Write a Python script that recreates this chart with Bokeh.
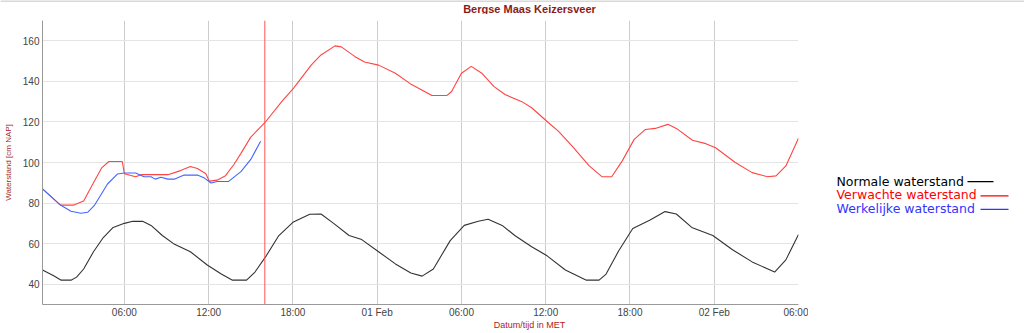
from bokeh.plotting import figure
from bokeh.models import Range1d, FixedTicker, Span, ColumnDataSource
from bokeh.layouts import row, column
from bokeh.core.properties import value
from bokeh.embed import file_html
from bokeh.resources import INLINE

# hours since 31 Jan 00:00 (MET)
normal_h = [0.17, 1.0, 1.5, 2.2, 2.6, 3.1, 3.8, 4.5, 5.2, 6.0, 6.6, 7.3, 7.9, 8.7, 9.5, 10.7, 11.9, 12.9,
            13.7, 14.7, 15.3, 16.1, 17.0, 18.0, 19.2, 20.0, 20.9, 22.0, 22.9, 24.1, 25.3, 26.4, 27.2, 28.0,
            29.2, 30.2, 31.2, 31.9, 32.9, 33.8, 35.0, 36.1, 37.4, 38.9, 39.8, 40.3, 41.2, 42.2, 43.4, 44.5,
            45.3, 46.4, 47.9, 49.3, 50.7, 52.3, 53.1, 54.0]
normal_v = [47, 44, 42, 42, 43.5, 47.5, 56, 63, 68, 70, 71, 71, 69, 64, 60, 56, 49.5, 45,
            42, 42, 46, 54, 64, 70.5, 74.5, 74.6, 70, 64, 62, 56, 50, 45.5, 44, 47.5,
            61.5, 69, 71, 72, 69, 64, 58.5, 54, 47, 42, 42, 45, 56.5, 67.5, 71.5, 75.8,
            74.6, 68, 64, 57, 51, 46, 52, 64.5]

expected_h = [0.17, 1.45, 2.4, 3.1, 3.8, 4.4, 4.9, 5.85, 6.0, 6.8, 7.2, 9.1, 10.0, 10.7, 11.2, 11.8, 12.05,
              12.6, 13.2, 13.8, 14.3, 15.0, 16.0, 17.2, 18.05, 19.3, 20.0, 21.0, 21.45, 22.4, 23.1, 24.1,
              25.3, 26.45, 27.9, 28.95, 29.3, 30.0, 30.7, 31.45, 32.3, 33.1, 34.3, 35.0, 36.2, 36.9, 37.9,
              39.1, 40.0, 40.7, 41.45, 42.3, 43.1, 43.8, 44.7, 45.3, 46.45, 47.4, 48.1, 49.5, 50.7, 51.8,
              52.4, 53.1, 54.0]
expected_v = [87, 79, 79, 81, 90, 97.5, 100.5, 100.5, 94.5, 93, 94, 94, 96, 98, 97, 94.5, 90.8,
              91.3, 93.5, 99, 104.5, 112.5, 119.6, 130, 136.7, 148, 153, 157.5, 157, 152.3, 149.5, 148,
              144, 138.4, 133, 133, 135, 144, 147.4, 144, 137.5, 133.5, 130, 127, 119.6, 115.5, 108,
              98.3, 93, 93, 100.8, 111.4, 116.3, 116.8, 118.8, 116.8, 111, 109.3, 107.3, 100, 95, 93,
              93.4, 98.3, 112]

actual_h = [0.17, 1.45, 2.2, 2.9, 3.4, 3.85, 4.8, 5.5, 6.0, 6.8, 7.4, 7.9, 8.2, 8.6, 9.1, 9.55, 10.25,
            11.2, 11.7, 12.17, 12.6, 13.4, 14.3, 15.0, 15.7]
actual_v = [87, 79, 76, 75, 75.5, 78.7, 89.4, 94.3, 94.8, 94.8, 93, 93, 91.8, 92.7, 91.8, 91.8, 93.8,
            93.8, 92.3, 89.9, 90.6, 90.6, 95.5, 101.5, 110.5]

now_h = 16.0
x_ticks = [6, 12, 18, 24, 30, 36, 42, 48, 54]
x_labels = ["06:00", "12:00", "18:00", "01 Feb", "06:00", "12:00", "18:00", "02 Feb", "06:00"]
y_ticks = [40, 60, 80, 100, 120, 140, 160]

title_text = "Bergse Maas Keizersveer"
x_title = "Datum/tijd in MET"
y_title = "Waterstand [cm NAP]"
legend_names = ["Normale waterstand", "Verwachte waterstand", "Werkelijke waterstand"]
legend_colors = ["#000000", "#ff0000", "#3333ff"]

FONT = "Liberation Sans"


def strip(width, height):
    f = figure(width=width, height=height, output_backend="svg", toolbar_location=None,
               x_range=Range1d(0, width), y_range=Range1d(height, 0),
               min_border_left=0, min_border_right=0, min_border_top=0, min_border_bottom=0)
    f.axis.visible = False
    f.grid.visible = False
    f.outline_line_color = None
    return f


# top strip: page border line + title
top = strip(1024, 14)
top.segment(x0=[0], y0=[0.5], x1=[1024], y1=[0.5], line_color="#d8d8d8", line_width=2)
top.text(x=[529], y=[8], text=[title_text], text_color="#8b1a1a", text_font=value(FONT),
         text_font_size="11px", text_font_style="bold", text_align="center", text_baseline="middle")

# main chart
p = figure(width=808, height=306, output_backend="svg", toolbar_location=None,
           x_range=Range1d(0.17, 54.0), y_range=Range1d(30, 170),
           min_border_left=42, min_border_right=10, min_border_top=6, min_border_bottom=15)
p.outline_line_color = None

p.xaxis.ticker = FixedTicker(ticks=x_ticks)
p.xaxis.major_label_overrides = {t: l for t, l in zip(x_ticks, x_labels)}
p.yaxis.ticker = FixedTicker(ticks=y_ticks)
for ax in (p.xaxis, p.yaxis):
    ax.axis_line_color = "#999999"
    ax.major_tick_line_color = None
    ax.minor_tick_line_color = None
    ax.major_tick_out = 0
    ax.major_tick_in = 0
    ax.minor_tick_out = 0
    ax.minor_tick_in = 0
    ax.major_label_text_font = FONT
    ax.major_label_text_font_size = "10px"
    ax.major_label_text_color = "#444444"
p.xaxis.major_label_standoff = 2
p.yaxis.major_label_standoff = 3
p.yaxis.axis_label = y_title
p.yaxis.axis_label_text_font = FONT
p.yaxis.axis_label_text_font_size = "8px"
p.yaxis.axis_label_text_font_style = "normal"
p.yaxis.axis_label_text_color = "#a52a2a"
p.yaxis.axis_label_standoff = 7

p.xgrid.grid_line_color = "#cccccc"
p.ygrid.grid_line_color = "#e4e4e4"

p.line(normal_h, normal_v, line_color="#333333", line_width=1.1)
p.line(expected_h, expected_v, line_color="#ff4444", line_width=1.1)
p.line(actual_h, actual_v, line_color="#4466ff", line_width=1.1)
p.add_layout(Span(location=now_h, dimension="height", line_color="#ff5555", line_width=1))

# legend panel (text first, then line sample)
lg = strip(216, 306)
leg_src = ColumnDataSource(dict(
    x=[28, 28, 28], y=[173, 187.5, 202.5], text=legend_names, color=legend_colors,
    x0=[159, 172, 172], x1=[185, 200, 200], ly=[173.5, 189, 203.5]))
lg.text(x="x", y="y", text="text", text_color="color", source=leg_src,
        text_font=value("DejaVu Sans"), text_font_size="12.5px", text_baseline="middle", text_align="left")
lg.segment(x0="x0", y0="ly", x1="x1", y1="ly", line_color="color", line_width=1.2, source=leg_src)

# bottom strip: x axis title
bottom = strip(1024, 13)
bottom.text(x=[529], y=[4], text=[x_title], text_color="#b22222", text_font=value(FONT),
            text_font_size="9px", text_align="center", text_baseline="middle")

layout = column(top, row(p, lg), bottom)
open("out.html", "w").write(file_html(layout, INLINE))
